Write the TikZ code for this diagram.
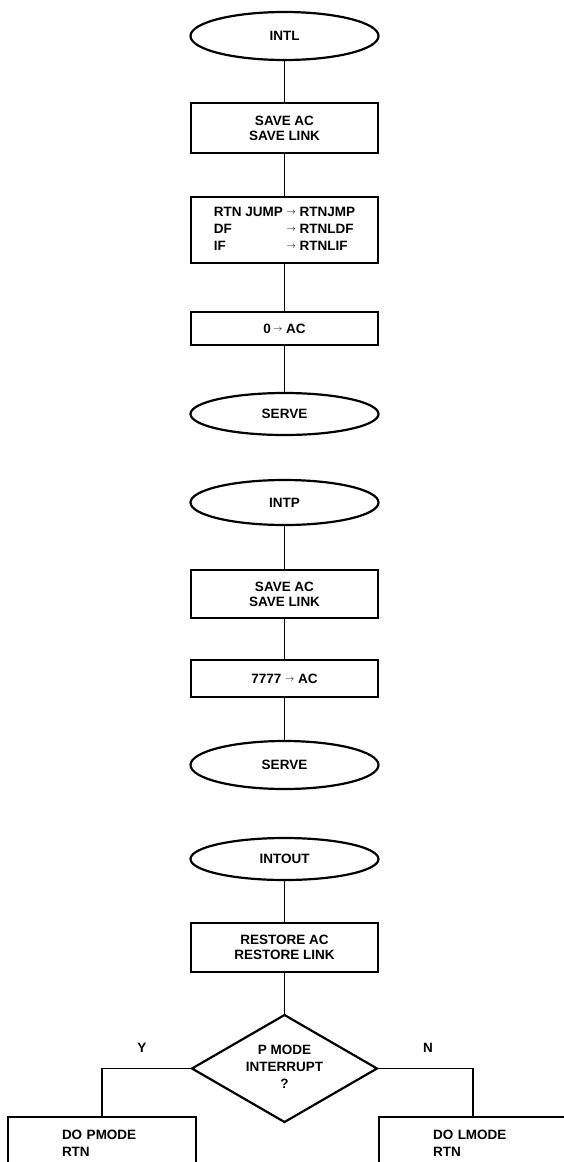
\documentclass[tikz,border=0pt]{standalone}
\usepackage{fontspec}
\setmainfont{Liberation Sans}
\usetikzlibrary{positioning,shapes.geometric}
\newcommand{\smallto}{\raisebox{1.6pt}{$\scriptstyle\rightarrow$}}

\begin{document}
\begin{tikzpicture}[
  x=1pt,y=1pt,
  font=\fontsize{13.5}{15}\selectfont\bfseries,
  base/.style={draw=black,line width=2.2pt,inner sep=0pt,outer sep=0pt,align=center},
  term/.style={base,ellipse,minimum width=188pt,minimum height=45pt},
  box/.style={base,rectangle,minimum width=187pt,minimum height=48pt},
  decision/.style={base,diamond,aspect=1.73,minimum width=185pt,minimum height=107pt},
  lowbox/.style={base,rectangle,minimum width=188pt,minimum height=52pt,
                 text width=80pt,align=left,inner xsep=54pt},
  line/.style={line width=1.5pt,draw=black}]
\useasboundingbox (0,0) rectangle (563,-1162);
\node[term,minimum height=48pt] (intl) at (284.5,-36) {INTL};
\node[box,minimum height=50pt,below=43pt of intl] (savea) {SAVE AC\\SAVE LINK};
\node[box,minimum height=66pt,below=44pt of savea] (rtn)
  {\begin{tabular}{@{}l@{\ }l@{}}
   RTN JUMP & \smallto\ RTNJMP\\[2pt]
   DF       & \smallto\ RTNLDF\\[2pt]
   IF       & \smallto\ RTNLIF
   \end{tabular}};
\node[box,minimum height=33pt,below=49pt of rtn] (zero) {0\,\smallto\ AC};
\node[term,minimum height=42pt,below=48pt of zero] (servea) {SERVE};
\node[term,below=45pt of servea] (intp) {INTP};
\node[box,below=45pt of intp] (saveb) {SAVE AC\\SAVE LINK};
\node[box,minimum height=37pt,below=42pt of saveb] (seven) {7777 \smallto\ AC};
\node[term,minimum height=48pt,below=44pt of seven] (serveb) {SERVE};
\node[term,minimum height=42pt,below=49pt of serveb] (intout) {INTOUT};
\node[box,minimum height=49pt,below=43pt of intout] (restore) {RESTORE AC\\RESTORE LINK};
\node[decision,below=43pt of restore] (dec) {\raisebox{-5pt}{\begin{tabular}{@{}c@{}}P MODE\\[2pt]INTERRUPT\\[2pt]?\end{tabular}}};
\node (ylab) at (142,-1048) {Y};
\node (nlab) at (428,-1048) {N};
\node[lowbox,anchor=north] (pmode) at (102,-1117) {DO PMODE\\[2pt]RTN};
\node[lowbox,anchor=north] (lmode) at (473,-1117) {DO LMODE\\[2pt]RTN};
\foreach \a/\b in {intl/savea,savea/rtn,rtn/zero,zero/servea,
                   intp/saveb,saveb/seven,seven/serveb,
                   intout/restore,restore/dec}
  \draw[line] (\a)--(\b);
\draw[line] (dec.west) -| (pmode.north);
\draw[line] (dec.east) -| (lmode.north);
\end{tikzpicture}
\end{document}
